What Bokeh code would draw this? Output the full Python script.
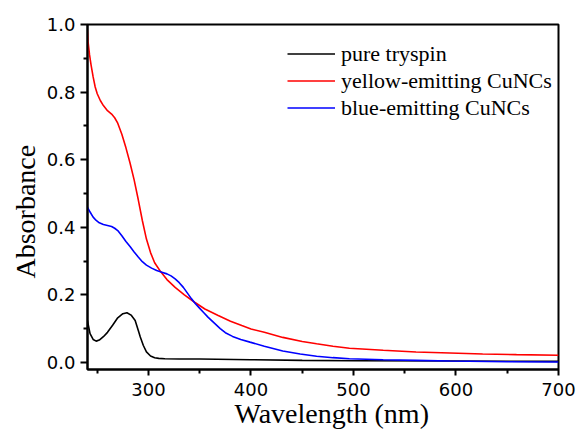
from bokeh.plotting import figure
from bokeh.models import FixedTicker, Range1d, Legend, LegendItem, Title
from bokeh.embed import file_html
from bokeh.resources import INLINE

# pure trypsin
wl_black = [240, 243, 246, 249, 252, 256, 260, 265, 270, 275, 279, 283, 287, 290, 292, 295, 298,
            302, 306, 310, 316, 330, 350, 400, 450, 500, 600, 700]
abs_black = [0.13, 0.085, 0.068, 0.063, 0.066, 0.076, 0.089, 0.11, 0.132, 0.144, 0.147, 0.14,
             0.124, 0.095, 0.075, 0.05, 0.031, 0.019, 0.014, 0.012, 0.011, 0.010, 0.010, 0.008,
             0.006, 0.005, 0.004, 0.003]

# yellow-emitting CuNCs
wl_red = [240, 241, 242.5, 244, 246, 248, 250, 253, 256, 260, 264, 267, 270, 274, 278, 282, 286,
          290, 294, 298, 302, 306, 312, 318, 326, 335, 345, 355, 368, 380, 391, 400, 413, 431,
          450, 464, 480, 496, 529, 561, 594, 626, 659, 700]
abs_red = [1.0, 0.95, 0.91, 0.88, 0.845, 0.815, 0.795, 0.775, 0.76, 0.745, 0.735, 0.724, 0.708,
           0.675, 0.635, 0.59, 0.54, 0.482, 0.42, 0.365, 0.325, 0.295, 0.268, 0.245, 0.222, 0.2,
           0.178, 0.158, 0.139, 0.122, 0.109, 0.099, 0.089, 0.074, 0.062, 0.055, 0.048, 0.042,
           0.036, 0.031, 0.028, 0.025, 0.023, 0.021]

# blue-emitting CuNCs
wl_blue = [240, 243, 246, 249, 252, 256, 260, 264, 267, 270, 274, 278, 282, 286, 290, 294, 298,
           303, 308, 313, 318, 322, 326, 330, 334, 338, 342, 346, 350, 354, 358, 364, 370, 375,
           382, 390, 399, 413, 431, 448, 464, 480, 496, 529, 561, 594, 650, 700]
abs_blue = [0.462, 0.445, 0.43, 0.42, 0.413, 0.408, 0.405, 0.402, 0.397, 0.39, 0.375, 0.358,
            0.343, 0.327, 0.312, 0.298, 0.288, 0.279, 0.272, 0.267, 0.262, 0.256, 0.247, 0.236,
            0.222, 0.205, 0.188, 0.173, 0.16, 0.147, 0.134, 0.117, 0.1, 0.088, 0.077, 0.068,
            0.06, 0.048, 0.034, 0.025, 0.018, 0.014, 0.011, 0.008, 0.006, 0.004, 0.002, 0.001]

x_ticks = [300, 400, 500, 600, 700]
x_minor = [250, 350, 450, 550, 650]
y_ticks = [0.0, 0.2, 0.4, 0.6, 0.8, 1.0]
y_minor = [0.1, 0.3, 0.5, 0.7, 0.9]

x_title = "Wavelength (nm)"
y_title = "Absorbance"

p = figure(width=576, height=429, output_backend="svg", toolbar_location=None,
           x_range=Range1d(240.5, 700), y_range=Range1d(-0.021, 1.0),
           min_border_left=87, min_border_right=18, min_border_top=24, min_border_bottom=60)

p.xgrid.visible = False
p.ygrid.visible = False
p.outline_line_color = "black"
p.outline_line_width = 2
p.background_fill_color = "white"
p.border_fill_color = "white"

r1 = p.line(wl_black, abs_black, line_color="black", line_width=1.6)
r2 = p.line(wl_red, abs_red, line_color="#ff0000", line_width=1.6)
r3 = p.line(wl_blue, abs_blue, line_color="#0000ff", line_width=1.6)

for ax in (p.xaxis[0], p.yaxis[0]):
    ax.axis_line_width = 2
    ax.axis_line_color = "black"
    ax.major_tick_line_width = 2
    ax.minor_tick_line_width = 2
    ax.major_tick_in = 0
    ax.minor_tick_in = 0
    ax.major_label_text_font = "DejaVu Sans"
    ax.major_label_text_font_size = "18px"
    ax.major_label_text_color = "black"

p.xaxis.ticker = FixedTicker(ticks=x_ticks, minor_ticks=x_minor)
p.yaxis.ticker = FixedTicker(ticks=y_ticks, minor_ticks=y_minor)
p.xaxis.major_label_overrides = {t: str(t) for t in x_ticks}
p.yaxis.major_label_overrides = {t: f"{t:.1f}" for t in y_ticks}

p.xaxis.major_tick_out = 6
p.xaxis.minor_tick_out = 4
p.xaxis.major_label_standoff = 7

p.yaxis.major_tick_out = 7
p.yaxis.minor_tick_out = 4
p.yaxis.major_label_standoff = 5

# axis titles as side titles, shifted like the original
xt = Title(text=x_title, align="left", offset=147, standoff=-5,
           text_font="Liberation Serif", text_font_size="28px", text_font_style="normal",
           text_color="black")
yt = Title(text=y_title, align="left", offset=91, standoff=5,
           text_font="Liberation Serif", text_font_size="28px", text_font_style="normal",
           text_color="black")
p.add_layout(xt, "below")
p.add_layout(yt, "left")

legend = Legend(items=[
    LegendItem(label="pure tryspin", renderers=[r1]),
    LegendItem(label="yellow-emitting CuNCs", renderers=[r2]),
    LegendItem(label="blue-emitting CuNCs", renderers=[r3]),
], location=(200, 248))
legend.border_line_alpha = 0
legend.background_fill_alpha = 0
legend.padding = 0
legend.margin = 0
legend.spacing = 0
legend.glyph_width = 48
legend.glyph_height = 27
legend.label_height = 27
legend.label_standoff = 6
legend.label_text_font = "Liberation Serif"
legend.label_text_font_size = "22px"
legend.label_text_color = "black"
p.add_layout(legend)

open("out.html", "w").write(file_html(p, INLINE))
